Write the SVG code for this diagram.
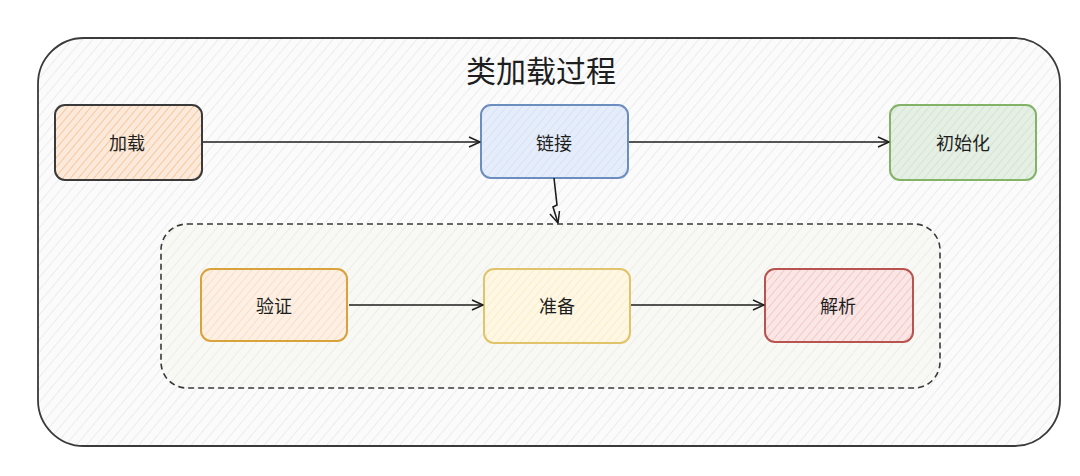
<svg xmlns="http://www.w3.org/2000/svg" width="1080" height="476" viewBox="0 0 1080 476">
<defs>
<pattern id="hOuter" patternUnits="userSpaceOnUse" width="8" height="8" patternTransform="rotate(40)"><rect width="8" height="8" fill="#fbfbfb"/><line x1="0" y1="0" x2="0" y2="8" stroke="#e2e2e2" stroke-width="1.2"/></pattern>
<pattern id="hInner" patternUnits="userSpaceOnUse" width="8" height="8" patternTransform="rotate(40)"><rect width="8" height="8" fill="#f8f8f4"/><line x1="0" y1="0" x2="0" y2="8" stroke="#e8e7e1" stroke-width="1.2"/></pattern>
<pattern id="hOrange" patternUnits="userSpaceOnUse" width="6" height="6" patternTransform="rotate(40)"><rect width="6" height="6" fill="#fbeadb"/><line x1="0" y1="0" x2="0" y2="6" stroke="#f8c495" stroke-width="1.8"/></pattern>
<pattern id="hBlue" patternUnits="userSpaceOnUse" width="6" height="6" patternTransform="rotate(40)"><rect width="6" height="6" fill="#e6edfa"/><line x1="0" y1="0" x2="0" y2="6" stroke="#d2dff5" stroke-width="1.5"/></pattern>
<pattern id="hGreen" patternUnits="userSpaceOnUse" width="6" height="6" patternTransform="rotate(40)"><rect width="6" height="6" fill="#e5efe4"/><line x1="0" y1="0" x2="0" y2="6" stroke="#cee2cc" stroke-width="1.5"/></pattern>
<pattern id="hAmber" patternUnits="userSpaceOnUse" width="6" height="6" patternTransform="rotate(40)"><rect width="6" height="6" fill="#fcf0e4"/><line x1="0" y1="0" x2="0" y2="6" stroke="#fad9bd" stroke-width="1.5"/></pattern>
<pattern id="hYellow" patternUnits="userSpaceOnUse" width="6" height="6" patternTransform="rotate(40)"><rect width="6" height="6" fill="#fdf7e3"/><line x1="0" y1="0" x2="0" y2="6" stroke="#fbebbf" stroke-width="1.5"/></pattern>
<pattern id="hRed" patternUnits="userSpaceOnUse" width="6" height="6" patternTransform="rotate(40)"><rect width="6" height="6" fill="#f9e6e5"/><line x1="0" y1="0" x2="0" y2="6" stroke="#f2c6c4" stroke-width="1.8"/></pattern>
<marker id="arr" markerWidth="14" markerHeight="12" refX="12" refY="6" orient="auto" markerUnits="userSpaceOnUse"><path d="M1,1 L12,6 L1,11" fill="none" stroke="#1e1e1e" stroke-width="1.5" stroke-linejoin="round"/></marker>
</defs>
<style>
text{font-family:"Noto Sans CJK SC","Noto Sans",sans-serif;fill:#1e1e1e;text-anchor:middle;dominant-baseline:central}
.lbl{font-size:18px}
.title{font-size:30px}
.node rect{stroke-width:2}
.conn path{fill:none;stroke:#1e1e1e;stroke-width:1.6;marker-end:url(#arr)}
</style>
<rect width="1080" height="476" fill="#ffffff"/>
<g id="container">
<rect x="38" y="38" width="1022" height="408" rx="46" fill="url(#hOuter)" stroke="#3a3a3a" stroke-width="1.8"/>
<text class="title" x="541" y="69">类加载过程</text>
</g>
<g id="sub-container">
<rect x="161" y="224" width="779" height="164" rx="26" fill="url(#hInner)" stroke="#3a3a3a" stroke-width="1.6" stroke-dasharray="6 4"/>
</g>
<g id="n-jiazai" class="node"><rect x="55" y="105" width="147" height="75" rx="10" fill="url(#hOrange)" stroke="#3a3a3a"/><text class="lbl" x="127" y="142">加载</text></g>
<g id="n-lianjie" class="node"><rect x="481" y="105" width="147" height="73" rx="10" fill="url(#hBlue)" stroke="#6c8ebf"/><text class="lbl" x="554" y="142">链接</text></g>
<g id="n-chushihua" class="node"><rect x="890" y="105" width="146" height="75" rx="10" fill="url(#hGreen)" stroke="#82b366"/><text class="lbl" x="963" y="142">初始化</text></g>
<g id="n-yanzheng" class="node"><rect x="201" y="269" width="146" height="72" rx="10" fill="url(#hAmber)" stroke="#d9a23a"/><text class="lbl" x="274" y="305">验证</text></g>
<g id="n-zhunbei" class="node"><rect x="484" y="269" width="146" height="74" rx="10" fill="url(#hYellow)" stroke="#e0c36a"/><text class="lbl" x="557" y="305">准备</text></g>
<g id="n-jiexi" class="node"><rect x="765" y="269" width="148" height="73" rx="10" fill="url(#hRed)" stroke="#b85450"/><text class="lbl" x="838" y="305">解析</text></g>
<g id="connectors" class="conn">
<path d="M203,142 L480,142"/>
<path d="M629,142 L889,142"/>
<path d="M554,178 L557,205 L553,207 L558,223"/>
<path d="M349,305 L483,305"/>
<path d="M631,305 L764,305"/>
</g>
</svg>
